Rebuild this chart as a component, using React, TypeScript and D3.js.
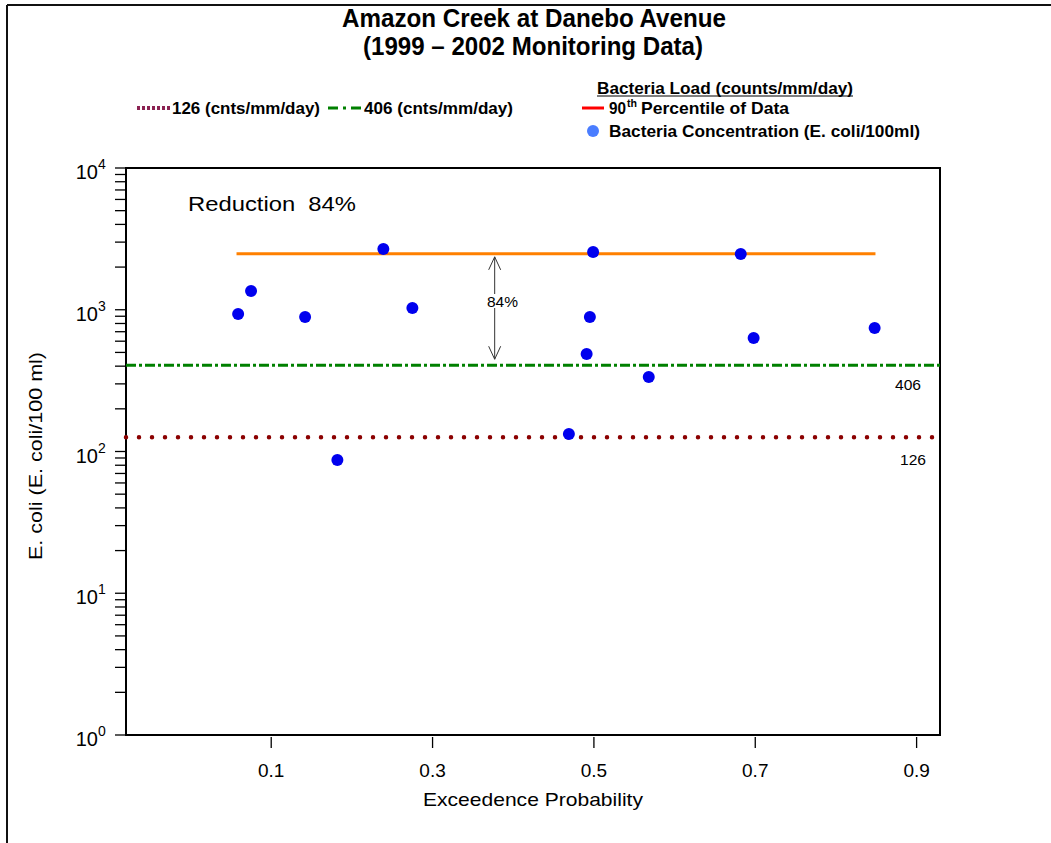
import React from "react";
import * as d3 from "d3";

const probability = [0.059, 0.075, 0.142, 0.182, 0.239, 0.275, 0.469, 0.491, 0.495, 0.499, 0.568, 0.682, 0.698, 0.848];
const concentration = [933, 1356, 889, 87, 2684, 1028, 133, 487, 889, 2555, 335, 2473, 632, 743];
const percentile90 = 2480;
const percentileRange = [0.057, 0.849];
const standard126 = 126;
const standard406 = 406;
const xTicks = [0.1, 0.3, 0.5, 0.7, 0.9];
const yDecades = [0, 1, 2, 3, 4];
const reductionLabel = "84%";
const arrowX = 0.377;

const W = 1051;
const H = 843;
const L = 126, R = 940, T = 168, B = 735;

const sans = "'Liberation Sans', Arial, sans-serif";

export default function App() {
  const x = d3.scaleLinear().domain([-0.08, 0.929]).range([L, R]);
  const y = d3.scaleLog().domain([1, 10000]).range([B, T]);
  const minor: number[] = [];
  for (let d = 0; d < 4; d++) for (let k = 2; k <= 9; k++) minor.push(k * Math.pow(10, d));
  const hline = d3.line<[number, number]>().x(d => x(d[0])).y(d => y(d[1]));

  const ay1 = y(percentile90) + 3;
  const ay2 = y(standard406) - 6;
  const ax = x(arrowX);

  return (
    <svg width={W} height={H} style={{ position: "absolute", left: 0, top: 0, background: "#fff" }}>
      {/* frame */}
      <line x1={7} y1={5} x2={W} y2={5} stroke="#111" strokeWidth={2} />
      <line x1={7} y1={5} x2={7} y2={H} stroke="#111" strokeWidth={2} />

      {/* title */}
      <text x={342} y={27} fontFamily={sans} fontWeight="bold" fontSize={25} textLength={384} lengthAdjust="spacingAndGlyphs">Amazon Creek at Danebo Avenue</text>
      <text x={363} y={55} fontFamily={sans} fontWeight="bold" fontSize={25} textLength={340} lengthAdjust="spacingAndGlyphs">(1999 – 2002 Monitoring Data)</text>

      {/* legend left */}
      <line x1={137} y1={108} x2={170} y2={108} stroke="#8b2252" strokeWidth={4} strokeDasharray="3 2" />
      <text x={172} y={114} fontFamily={sans} fontWeight="bold" fontSize={17} textLength={148} lengthAdjust="spacingAndGlyphs">126 (cnts/mm/day)</text>
      <line x1={328} y1={108} x2={361} y2={108} stroke="#008000" strokeWidth={3} strokeDasharray="10 5 3 5" />
      <text x={364} y={114} fontFamily={sans} fontWeight="bold" fontSize={17} textLength={149} lengthAdjust="spacingAndGlyphs">406 (cnts/mm/day)</text>

      {/* legend right */}
      <text x={597} y={94} fontFamily={sans} fontWeight="bold" fontSize={17} textLength={256} lengthAdjust="spacingAndGlyphs">Bacteria Load (counts/mm/day)</text>
      <line x1={597} y1={96} x2={853} y2={96} stroke="#000" strokeWidth={1.2} />
      <line x1={582} y1={108} x2={604} y2={108} stroke="#ff0000" strokeWidth={3} />
      <text x={609} y={114} fontFamily={sans} fontWeight="bold" fontSize={17} textLength={17} lengthAdjust="spacingAndGlyphs">90</text>
      <text x={627} y={107} fontFamily={sans} fontWeight="bold" fontSize={10} textLength={10} lengthAdjust="spacingAndGlyphs">th</text>
      <text x={641} y={114} fontFamily={sans} fontWeight="bold" fontSize={17} textLength={148} lengthAdjust="spacingAndGlyphs">Percentile of Data</text>
      <circle cx={593} cy={131} r={6} fill="#4a7dff" />
      <text x={609} y={137} fontFamily={sans} fontWeight="bold" fontSize={17} textLength={311} lengthAdjust="spacingAndGlyphs">Bacteria Concentration (E. coli/100ml)</text>

      {/* axes box */}
      <rect x={L} y={T} width={R - L} height={B - T} fill="none" stroke="#000" strokeWidth={2} />

      {/* y ticks */}
      {yDecades.map(d => (
        <g key={"yd" + d}>
          <line x1={L - 11} x2={L} y1={y(Math.pow(10, d))} y2={y(Math.pow(10, d))} stroke="#000" strokeWidth={1.3} />
          <text x={L - 28} y={y(Math.pow(10, d)) + 11} textAnchor="end" fontFamily={sans} fontSize={20}>10</text>
          <text x={L - 28} y={y(Math.pow(10, d)) + 1} fontFamily={sans} fontSize={14}>{d}</text>
        </g>
      ))}
      {minor.map((v, i) => (
        <line key={"ym" + i} x1={L - 11} x2={L} y1={y(v)} y2={y(v)} stroke="#000" strokeWidth={1.3} />
      ))}

      {/* x ticks */}
      {xTicks.map(t => (
        <g key={"xt" + t}>
          <line x1={x(t)} x2={x(t)} y1={B + 2} y2={B + 13} stroke="#000" strokeWidth={1.3} />
          <text x={x(t)} y={B + 42} textAnchor="middle" fontFamily={sans} fontSize={19}>{t.toFixed(1)}</text>
        </g>
      ))}

      {/* axis labels */}
      <text x={423} y={806} fontFamily={sans} fontSize={19} textLength={220} lengthAdjust="spacingAndGlyphs">Exceedence Probability</text>
      <text transform={`translate(42,560) rotate(-90)`} fontFamily={sans} fontSize={18} textLength={208} lengthAdjust="spacingAndGlyphs">E. coli (E. coli/100 ml)</text>

      {/* standards */}
      <path d={hline([[-0.08, standard406], [0.929, standard406]]) || ""} stroke="#008000" strokeWidth={3} strokeDasharray="10 3 3 3" fill="none" />
      <path d={hline([[-0.08, standard126], [0.929, standard126]]) || ""} stroke="#8b0000" strokeWidth={4.5} strokeDasharray="0 13" strokeLinecap="round" fill="none" />
      <text x={895} y={y(standard406) + 25} fontFamily={sans} fontSize={15} textLength={26} lengthAdjust="spacingAndGlyphs">406</text>
      <text x={900} y={y(standard126) + 28} fontFamily={sans} fontSize={15} textLength={26} lengthAdjust="spacingAndGlyphs">126</text>

      {/* 90th percentile */}
      <path d={hline([[percentileRange[0], percentile90], [percentileRange[1], percentile90]]) || ""} stroke="#ff8000" strokeWidth={3} fill="none" />

      {/* reduction arrow */}
      <line x1={ax} x2={ax} y1={ay1} y2={ay2} stroke="#333" strokeWidth={1} />
      <polyline points={`${ax - 6},${ay1 + 13} ${ax},${ay1} ${ax + 6},${ay1 + 13}`} fill="none" stroke="#333" strokeWidth={1} />
      <polyline points={`${ax - 6},${ay2 - 13} ${ax},${ay2} ${ax + 6},${ay2 - 13}`} fill="none" stroke="#333" strokeWidth={1} />
      <rect x={ax - 8} y={294} width={32} height={14} fill="#fff" />
      <text x={487} y={307} fontFamily={sans} fontSize={15} textLength={31} lengthAdjust="spacingAndGlyphs">{reductionLabel}</text>
      <text x={188} y={211} fontFamily={sans} fontSize={21} textLength={168} lengthAdjust="spacingAndGlyphs" style={{ whiteSpace: "pre" }}>Reduction  84%</text>

      {/* points */}
      {probability.map((p, i) => (
        <circle key={"pt" + i} cx={x(p)} cy={y(concentration[i])} r={6} fill="#0000ee" />
      ))}
    </svg>
  );
}
